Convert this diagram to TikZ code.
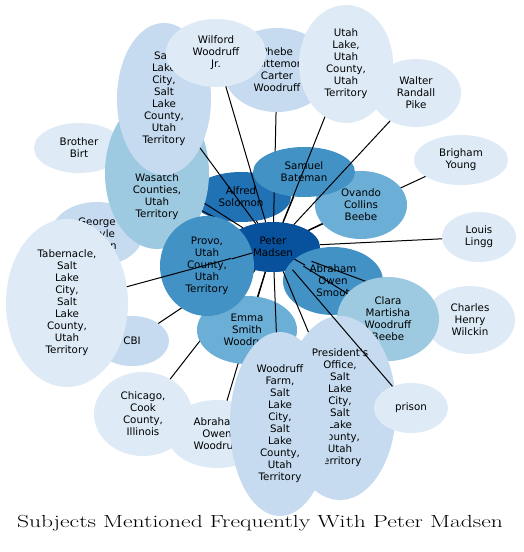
\documentclass[tikz,border=0pt]{standalone}
\usepackage{fontspec}
\usepackage{graphicx}
\newfontfamily\dejavu{DejaVu Sans}
\usetikzlibrary{shapes.geometric}
\definecolor{bA}{HTML}{08519C}
\definecolor{bB}{HTML}{2171B5}
\definecolor{bC}{HTML}{4292C6}
\definecolor{bD}{HTML}{6BAED6}
\definecolor{bE}{HTML}{9ECAE1}
\definecolor{bF}{HTML}{C6DBEF}
\definecolor{bG}{HTML}{DEEBF7}
\tikzset{
  nd/.style={ellipse, inner sep=0pt, outer sep=0pt, align=center, text=black,
    font=\dejavu\fontsize{10.3}{12}\selectfont},
  sz/.style 2 args={minimum width=#1pt, minimum height=#2pt},
  ed/.style={draw=black, line width=1pt}
}
\begin{document}
\begin{tikzpicture}[x=1pt, y=-1pt]
\fill[white] (0,0) rectangle (523,552);
\useasboundingbox (0,0) rectangle (523,552);

\node[nd, fill=bA, sz={94}{50}] (peter) at (273,247) {Peter\\Madsen};

\node[nd, fill=bB, sz={100}{50}] (alfred) at (241,197) {Alfred\\Solomon};
\draw[ed] (peter) -- (alfred);

\node[nd, fill=bF, sz={108}{84}] (phebe) at (277,70) {Phebe\\Whittemore\\Carter\\Woodruff};
\draw[ed] (peter) -- (phebe);

\node[nd, fill=bG, sz={94}{50}] (brigham) at (461,160) {Brigham\\Young};
\draw[ed] (peter) -- (brigham);

\node[nd, fill=bD, sz={92}{68}] (ovando) at (361,205) {Ovando\\Collins\\Beebe};
\draw[ed] (peter) -- (ovando);

\node[nd, fill=bC, sz={102}{50}] (samuel) at (304,172) {Samuel\\Bateman};
\draw[ed] (peter) -- (samuel);

\node[nd, fill=bG, sz={94}{118}] (utahlake) at (346,64) {Utah\\Lake,\\Utah\\County,\\Utah\\Territory};
\draw[ed] (peter) -- (utahlake);

\node[nd, fill=bG, sz={90}{68}] (walter) at (416,93) {Walter\\Randall\\Pike};
\draw[ed] (peter) -- (walter);

\node[nd, fill=bG, sz={90}{50}] (birt) at (79,148) {Brother\\Birt};
\draw[ed] (peter) -- (birt);

\node[nd, fill=bF, sz={92}{64}] (george) at (97,234) {George\\\phantom{Carl}yle\\\phantom{Canno}n};
\draw[ed] (peter) -- (george);

\node[nd, fill=bE, sz={104}{152}] (wasatch) at (157,173) {\phantom{Salt}\\\phantom{Lake,}\\\phantom{Utah,}\\\phantom{and}\\Wasatch\\Counties,\\Utah\\Territory};
\draw[ed] (peter) -- (wasatch);

\node[nd, fill=bF, sz={94}{152}] (slc) at (164,99) {Salt\\Lake\\City,\\Salt\\Lake\\County,\\Utah\\Territory};
\draw[ed] (peter) -- (slc);

\node[nd, fill=bG, sz={100}{68}] (wilford) at (216,53) {Wilford\\Woodruff\\Jr.};
\draw[ed] (peter) -- (wilford);

\node[nd, fill=bF, sz={74}{50}] (cbi) at (132,341) {CBI};
\draw[ed] (peter) -- (cbi);

\node[nd, fill=bG, sz={98}{84}] (chicago) at (143,414) {Chicago,\\Cook\\County,\\Illinois};
\draw[ed] (peter) -- (chicago);

\node[nd, fill=bG, sz={100}{68}] (aow) at (217,434) {Abraham\\Owen\\Woodruff};
\draw[ed] (peter) -- (aow);

\node[nd, fill=bD, sz={100}{68}] (emma) at (247,330) {Emma\\Smith\\Woodruff};
\draw[ed] (peter) -- (emma);

\node[nd, fill=bC, sz={94}{100}] (provo) at (207,266) {Provo,\\Utah\\County,\\Utah\\Territory};
\draw[ed] (peter) -- (provo);

\node[nd, fill=bG, sz={122}{168}] (tab) at (67,303) {Tabernacle,\\Salt\\Lake\\City,\\Salt\\Lake\\County,\\Utah\\Territory};
\draw[ed] (peter) -- (tab);

\node[nd, fill=bC, sz={100}{68}] (smoot) at (333,281) {Abraham\\Owen\\Smoot};
\draw[ed] (peter) -- (smoot);

\node[nd, fill=bG, sz={90}{68}] (charles) at (470,320) {Charles\\Henry\\Wilckin};
\draw[ed] (peter) -- (charles);

\node[nd, fill=bE, sz={102}{84}] (clara) at (388,319) {Clara\\Martisha\\Woodruff\\Beebe};
\draw[ed] (peter) -- (clara);

\node[nd, fill=bF, sz={112}{184}] (pres) at (340,408) {President's\\Office,\\Salt\\Lake\\City,\\Salt\\Lake\\County,\\Utah\\Territory};
\draw[ed] (peter) -- (pres);

\node[nd, fill=bF, sz={100}{184}] (wf) at (280,424) {Woodruff\\Farm,\\Salt\\Lake\\City,\\Salt\\Lake\\County,\\Utah\\Territory};
\draw[ed] (peter) -- (wf);

\node[nd, fill=bG, sz={74}{50}] (prison) at (411,408) {prison};
\draw[ed] (peter) -- (prison);

\node[nd, fill=bG, sz={74}{50}] (louis) at (479,237) {Louis\\Lingg};
\draw[ed] (peter) -- (louis);

\node[anchor=base, inner sep=0pt] (title) at (260,527.5)
  {\resizebox{486pt}{\height}{\fontsize{17.5}{20}\selectfont Subjects Mentioned Frequently With Peter Madsen}};
\end{tikzpicture}
\end{document}
